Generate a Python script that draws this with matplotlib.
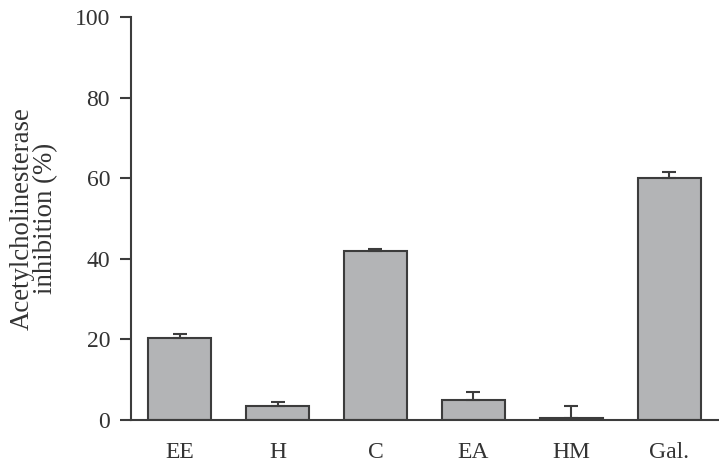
import matplotlib.pyplot as plt

labels = ["EE", "H", "C", "EA", "HM", "Gal."]
values = [20.3, 3.5, 41.9, 5.0, 0.5, 60.0]
errors = [1.0, 1.0, 0.5, 2.0, 3.0, 1.5]

plt.rcParams['font.family'] = ['Liberation Serif', 'DejaVu Serif']

fig = plt.figure(figsize=(7.19, 4.66), dpi=100)
ax = fig.add_axes([0.182, 0.0987, 0.8166, 0.8648])

dark = "#3c3c3c"
x = range(len(labels))
ax.bar(x, values, width=0.645, color="#b3b4b6", edgecolor=dark, linewidth=1.5, zorder=2)
ax.errorbar(x, values, yerr=[[0] * len(errors), errors], fmt="none",
            ecolor=dark, elinewidth=1.5, capsize=5, capthick=1.5, zorder=3)

ax.set_xlim(-0.5, 5.5)
ax.set_ylim(0, 100)
ax.set_yticks([0, 20, 40, 60, 80, 100])
ax.set_xticks(list(x))
ax.set_xticklabels(labels)
ax.tick_params(axis='x', length=0, pad=16, labelsize=17, labelcolor="#333333")
ax.tick_params(axis='y', length=8, width=1.5, color=dark, pad=7, labelsize=17, labelcolor="#333333")

for s in ["top", "right"]:
    ax.spines[s].set_visible(False)
for s in ["left", "bottom"]:
    ax.spines[s].set_color(dark)
    ax.spines[s].set_linewidth(1.5)

ax.set_ylabel("Acetylcholinesterase\ninhibition (%)", fontsize=19.3, color="#333333",
              linespacing=0.9, labelpad=12)

fig.savefig("out.png", dpi=100)
